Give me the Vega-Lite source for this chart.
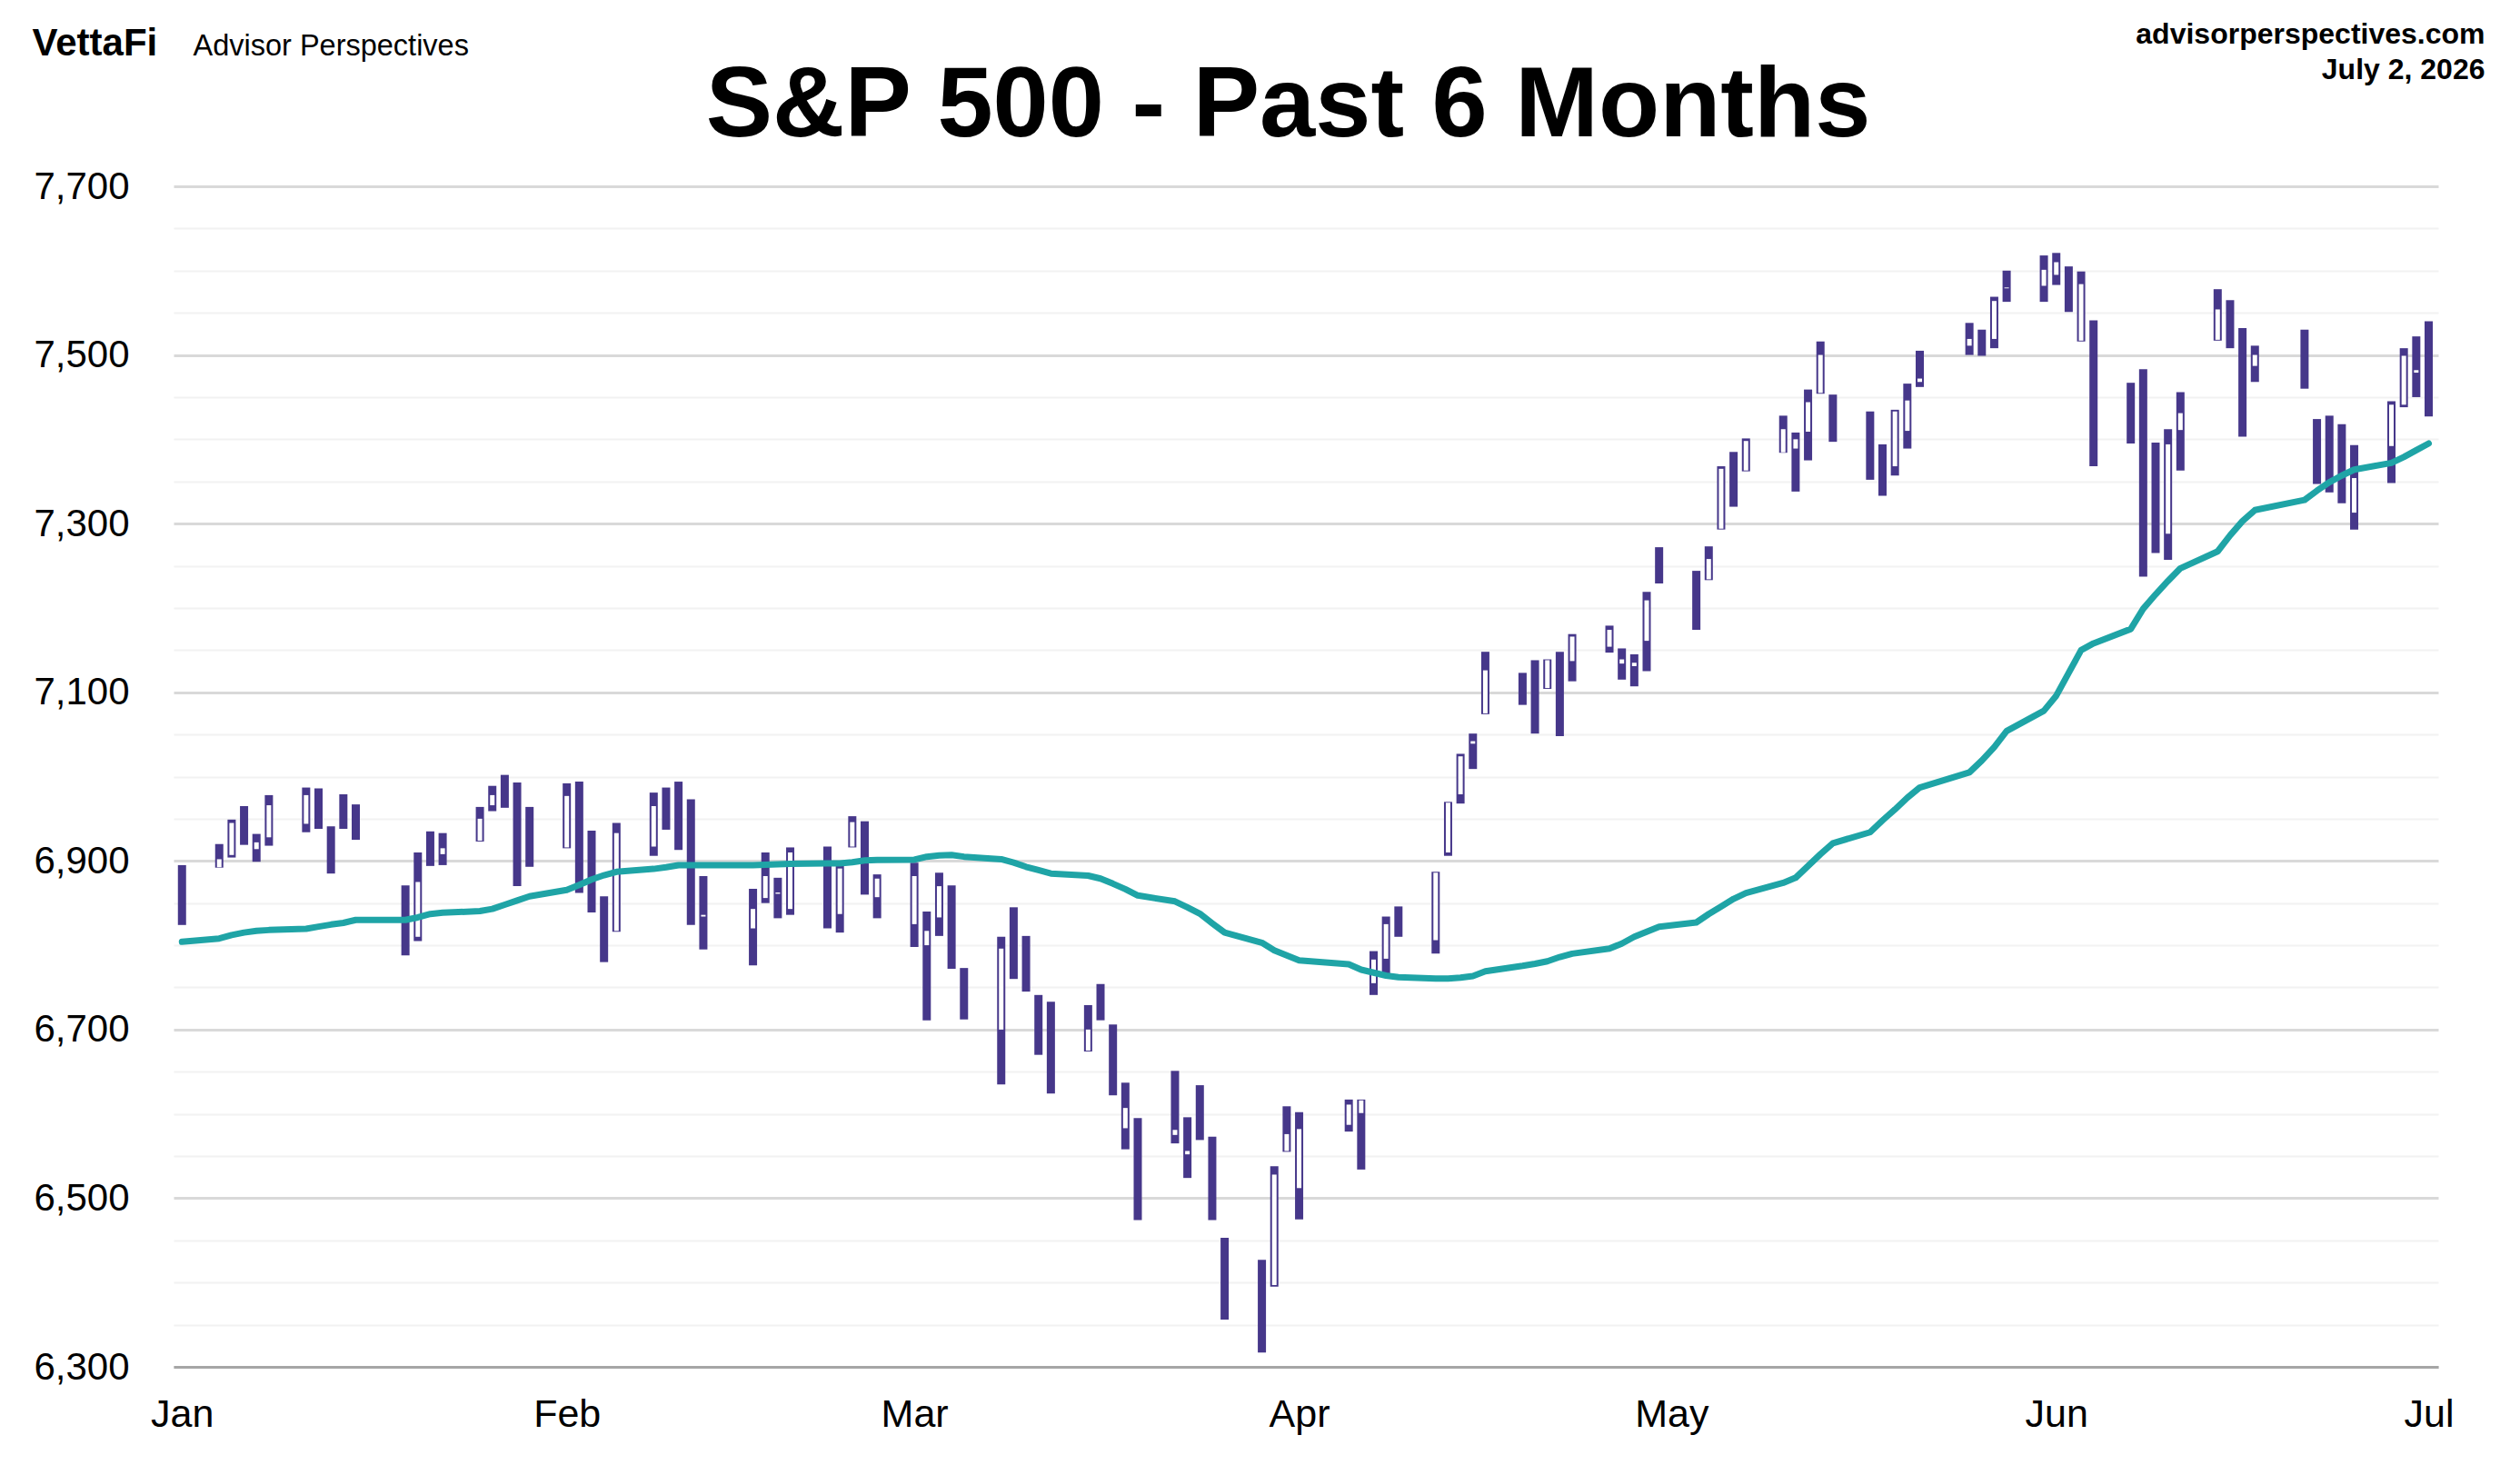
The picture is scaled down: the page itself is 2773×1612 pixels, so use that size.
{
  "$schema": "https://vega.github.io/schema/vega-lite/v6.json",
  "width": 2492,
  "height": 1299,
  "autosize": {"type": "none"},
  "padding": {"left": 191, "top": 205, "right": 90, "bottom": 108},
  "background": "white",
  "config": {"view": {"stroke": null}, "font": "Liberation Sans"},
  "data": {"values": [
    {"d":"2026-01-02","h":6895,"l":6824,"m":6804},
    {"d":"2026-01-05","h":6920,"l":6892,"o":6892.5,"c":6902,"m":6808},
    {"d":"2026-01-06","h":6949,"l":6904,"o":6907,"c":6945,"m":6812},
    {"d":"2026-01-07","h":6965,"l":6919,"m":6815},
    {"d":"2026-01-08","h":6932,"l":6899,"o":6914,"c":6922,"m":6817},
    {"d":"2026-01-09","h":6978,"l":6918,"o":6928,"c":6966,"m":6818},
    {"d":"2026-01-12","h":6987,"l":6934,"o":6944,"c":6978,"m":6819.5},
    {"d":"2026-01-13","h":6986,"l":6938,"m":6822},
    {"d":"2026-01-14","h":6941,"l":6885,"m":6824.5},
    {"d":"2026-01-15","h":6979,"l":6938,"m":6826.5},
    {"d":"2026-01-16","h":6967,"l":6925,"m":6830},
    {"d":"2026-01-20","h":6871,"l":6788,"m":6830},
    {"d":"2026-01-21","h":6910,"l":6805,"o":6810,"c":6875,"m":6833},
    {"d":"2026-01-22","h":6935,"l":6894,"m":6837},
    {"d":"2026-01-23","h":6933,"l":6895,"o":6908,"c":6915,"m":6838.5},
    {"d":"2026-01-26","h":6964,"l":6923,"o":6924,"c":6950,"m":6840.5},
    {"d":"2026-01-27","h":6989,"l":6959,"o":6966,"c":6978,"m":6843},
    {"d":"2026-01-28","h":7002,"l":6963,"m":6848},
    {"d":"2026-01-29","h":6993,"l":6870,"m":6853},
    {"d":"2026-01-30","h":6964,"l":6893,"m":6858},
    {"d":"2026-02-02","h":6992,"l":6915,"o":6916,"c":6977,"m":6865.5},
    {"d":"2026-02-03","h":6994,"l":6862,"m":6871.5},
    {"d":"2026-02-04","h":6936,"l":6839,"m":6878},
    {"d":"2026-02-05","h":6858,"l":6780,"m":6883},
    {"d":"2026-02-06","h":6945,"l":6816,"o":6817,"c":6933,"m":6887},
    {"d":"2026-02-09","h":6981,"l":6906,"o":6917,"c":6965,"m":6890.5},
    {"d":"2026-02-10","h":6987,"l":6937,"m":6892.5},
    {"d":"2026-02-11","h":6994,"l":6913,"m":6895},
    {"d":"2026-02-12","h":6973,"l":6824,"m":6895},
    {"d":"2026-02-13","h":6882,"l":6795,"o":6834,"c":6836,"m":6895},
    {"d":"2026-02-17","h":6867,"l":6776,"o":6820,"c":6843,"m":6895},
    {"d":"2026-02-18","h":6910,"l":6850,"o":6856,"c":6882,"m":6895.5},
    {"d":"2026-02-19","h":6880,"l":6832,"o":6861,"c":6862.5,"m":6896},
    {"d":"2026-02-20","h":6916,"l":6836,"o":6843,"c":6910,"m":6896.5},
    {"d":"2026-02-23","h":6917,"l":6820,"m":6897},
    {"d":"2026-02-24","h":6900,"l":6815,"o":6837,"c":6891,"m":6897},
    {"d":"2026-02-25","h":6953,"l":6916,"o":6917,"c":6946,"m":6898.5},
    {"d":"2026-02-26","h":6947,"l":6860,"m":6900.5},
    {"d":"2026-02-27","h":6884,"l":6832,"o":6857,"c":6879,"m":6901},
    {"d":"2026-03-02","h":6898,"l":6798,"o":6825,"c":6882,"m":6901.5},
    {"d":"2026-03-03","h":6840,"l":6711,"o":6800,"c":6817,"m":6905},
    {"d":"2026-03-04","h":6886,"l":6811,"o":6833,"c":6870,"m":6906.5},
    {"d":"2026-03-05","h":6871,"l":6772,"m":6907},
    {"d":"2026-03-06","h":6773,"l":6712,"m":6905},
    {"d":"2026-03-09","h":6810,"l":6635,"o":6700,"c":6796,"m":6902},
    {"d":"2026-03-10","h":6845,"l":6760,"m":6898},
    {"d":"2026-03-11","h":6811,"l":6745,"m":6893},
    {"d":"2026-03-12","h":6741,"l":6670,"m":6889},
    {"d":"2026-03-13","h":6733,"l":6624,"m":6885},
    {"d":"2026-03-16","h":6729,"l":6674,"o":6675,"c":6700,"m":6882.5},
    {"d":"2026-03-17","h":6754,"l":6711,"m":6879},
    {"d":"2026-03-18","h":6706,"l":6622,"m":6873},
    {"d":"2026-03-19","h":6637,"l":6558,"o":6583,"c":6607,"m":6866.5},
    {"d":"2026-03-20","h":6595,"l":6474,"m":6859},
    {"d":"2026-03-23","h":6651,"l":6565,"o":6575,"c":6581,"m":6852},
    {"d":"2026-03-24","h":6596,"l":6524,"o":6552,"c":6556,"m":6845},
    {"d":"2026-03-25","h":6634,"l":6569,"m":6837.5},
    {"d":"2026-03-26","h":6573,"l":6474,"m":6826},
    {"d":"2026-03-27","h":6453,"l":6356,"m":6815},
    {"d":"2026-03-30","h":6427,"l":6317,"m":6803},
    {"d":"2026-03-31","h":6538,"l":6395,"o":6397,"c":6528,"m":6794},
    {"d":"2026-04-01","h":6609,"l":6555,"o":6556,"c":6576,"m":6788},
    {"d":"2026-04-02","h":6602,"l":6475,"o":6512,"c":6582,"m":6782},
    {"d":"2026-04-06","h":6617,"l":6579,"o":6587,"c":6611,"m":6777.5},
    {"d":"2026-04-07","h":6617,"l":6534,"o":6601,"c":6616,"m":6771},
    {"d":"2026-04-08","h":6793,"l":6741,"o":6755,"c":6783,"m":6767.5},
    {"d":"2026-04-09","h":6834,"l":6762,"o":6784,"c":6825,"m":6764},
    {"d":"2026-04-10","h":6846,"l":6810,"m":6762},
    {"d":"2026-04-13","h":6887,"l":6790,"o":6806,"c":6886,"m":6760.5},
    {"d":"2026-04-14","h":6970,"l":6906,"o":6910,"c":6969,"m":6760.5},
    {"d":"2026-04-15","h":7027,"l":6968,"o":6979,"c":7024,"m":6761.5},
    {"d":"2026-04-16","h":7051,"l":7009,"o":7039,"c":7042,"m":6763.5},
    {"d":"2026-04-17","h":7148,"l":7074,"o":7075,"c":7126,"m":6769},
    {"d":"2026-04-20","h":7123,"l":7085,"m":6775.5},
    {"d":"2026-04-21","h":7138,"l":7051,"m":6778},
    {"d":"2026-04-22","h":7139,"l":7104,"o":7105,"c":7138,"m":6781},
    {"d":"2026-04-23","h":7148,"l":7048,"m":6786},
    {"d":"2026-04-24","h":7169,"l":7113,"o":7137,"c":7166,"m":6790},
    {"d":"2026-04-27","h":7179,"l":7147,"o":7154,"c":7174,"m":6796},
    {"d":"2026-04-28","h":7152,"l":7115,"o":7134,"c":7139,"m":6802},
    {"d":"2026-04-29","h":7145,"l":7107,"o":7131,"c":7135,"m":6810},
    {"d":"2026-04-30","h":7219,"l":7125,"o":7161,"c":7209,"m":6816},
    {"d":"2026-05-01","h":7272,"l":7229,"m":6822},
    {"d":"2026-05-04","h":7244,"l":7174,"m":6827},
    {"d":"2026-05-05","h":7273,"l":7233,"o":7234,"c":7258,"m":6837},
    {"d":"2026-05-06","h":7368,"l":7293,"o":7294,"c":7365,"m":6846},
    {"d":"2026-05-07","h":7385,"l":7320,"m":6855},
    {"d":"2026-05-08","h":7401,"l":7362,"o":7363,"c":7398,"m":6862},
    {"d":"2026-05-11","h":7428,"l":7384,"o":7384.5,"c":7412,"m":6874},
    {"d":"2026-05-12","h":7408,"l":7338,"o":7389,"c":7400,"m":6880},
    {"d":"2026-05-13","h":7459,"l":7375,"o":7409,"c":7444,"m":6894},
    {"d":"2026-05-14","h":7516,"l":7454,"o":7455,"c":7500,"m":6908},
    {"d":"2026-05-15","h":7453,"l":7397,"m":6921},
    {"d":"2026-05-18","h":7433,"l":7352,"m":6934},
    {"d":"2026-05-19","h":7394,"l":7333,"m":6948},
    {"d":"2026-05-20","h":7435,"l":7357,"o":7368,"c":7433,"m":6961},
    {"d":"2026-05-21","h":7466,"l":7389,"o":7410,"c":7446,"m":6975},
    {"d":"2026-05-22","h":7505,"l":7462,"o":7468,"c":7472,"m":6987},
    {"d":"2026-05-26","h":7538,"l":7500,"o":7511,"c":7519,"m":7005},
    {"d":"2026-05-27","h":7530,"l":7499,"m":7019},
    {"d":"2026-05-28","h":7569,"l":7508,"o":7519,"c":7564,"m":7035},
    {"d":"2026-05-29","h":7600,"l":7563,"o":7579,"c":7580,"m":7054},
    {"d":"2026-06-01","h":7618,"l":7563,"o":7582,"c":7601,"m":7078},
    {"d":"2026-06-02","h":7621,"l":7583,"o":7595,"c":7610,"m":7096},
    {"d":"2026-06-03","h":7605,"l":7551,"m":7123},
    {"d":"2026-06-04","h":7599,"l":7516,"o":7517,"c":7584,"m":7150},
    {"d":"2026-06-05","h":7541,"l":7368,"m":7158},
    {"d":"2026-06-08","h":7467,"l":7395,"m":7175},
    {"d":"2026-06-09","h":7483,"l":7237,"m":7199},
    {"d":"2026-06-10","h":7396,"l":7265,"m":7216},
    {"d":"2026-06-11","h":7412,"l":7257,"o":7288,"c":7394,"m":7232},
    {"d":"2026-06-12","h":7456,"l":7363,"o":7411,"c":7431,"m":7247},
    {"d":"2026-06-15","h":7578,"l":7517,"o":7518,"c":7554,"m":7267},
    {"d":"2026-06-16","h":7565,"l":7508,"m":7286},
    {"d":"2026-06-17","h":7532,"l":7403,"m":7303},
    {"d":"2026-06-18","h":7511,"l":7468,"o":7487,"c":7500,"m":7316},
    {"d":"2026-06-22","h":7530,"l":7460,"m":7328},
    {"d":"2026-06-23","h":7424,"l":7347,"m":7339},
    {"d":"2026-06-24","h":7428,"l":7337,"m":7349},
    {"d":"2026-06-25","h":7418,"l":7324,"m":7357},
    {"d":"2026-06-26","h":7393,"l":7293,"o":7313,"c":7354,"m":7364},
    {"d":"2026-06-29","h":7445,"l":7348,"o":7392,"c":7441,"m":7372},
    {"d":"2026-06-30","h":7508,"l":7438,"o":7441,"c":7499,"m":7379},
    {"d":"2026-07-01","h":7522,"l":7450,"o":7479,"c":7482,"m":7387},
    {"d":"2026-07-02","h":7540,"l":7427,"m":7395}
  ]},
  "resolve": {"axis": {"x": "independent", "y": "independent"}},
  "layer": [
    {
      "mark": {"type": "bar", "size": 9, "color": "#46378a"},
      "encoding": {
        "x": {
          "field": "d",
          "type": "temporal",
          "scale": {"type": "utc", "domain": [1767285000000, 1782985200000]},
          "axis": {
            "orient": "bottom",
            "values": [1767312000000, 1769990400000, 1772409600000, 1775088000000, 1777680000000, 1780358400000, 1782950400000],
            "labelExpr": "utcFormat(datum.value, '%b')",
            "ticks": false,
            "grid": false,
            "domain": true,
            "domainColor": "#a6a6a6",
            "domainWidth": 3,
            "labelFont": "Liberation Sans",
            "labelFontSize": 43,
            "labelColor": "#000000",
            "labelPadding": 31,
            "labelOverlap": false,
            "labelBound": false,
            "labelFlush": false,
            "title": "S&P 500 - Past 6 Months",
            "titleX": 1226,
            "titleY": -1355,
            "titleAlign": "center",
            "titleBaseline": "alphabetic",
            "titleAngle": 0,
            "titleFont": "Liberation Sans",
            "titleFontSize": 110,
            "titleFontWeight": "bold",
            "titleColor": "#000000",
            "titleLimit": 3000
          }
        },
        "y": {
          "field": "l",
          "type": "quantitative",
          "scale": {"domain": [6300, 7700], "zero": false, "nice": false},
          "axis": {
            "orient": "left",
            "values": [6300, 6350, 6400, 6450, 6500, 6550, 6600, 6650, 6700, 6750, 6800, 6850, 6900, 6950, 7000, 7050, 7100, 7150, 7200, 7250, 7300, 7350, 7400, 7450, 7500, 7550, 7600, 7650, 7700],
            "labelExpr": "datum.value % 200 === 100 ? format(datum.value, ',') : ''",
            "ticks": false,
            "domain": false,
            "grid": true,
            "gridColor": {"condition": {"test": "datum.value % 200 === 100", "value": "#d9d9d9"}, "value": "#f2f2f2"},
            "gridWidth": {"condition": {"test": "datum.value % 200 === 100", "value": 3}, "value": 2},
            "labelFont": "Liberation Sans",
            "labelFontSize": 42,
            "labelColor": "#000000",
            "labelPadding": 49,
            "labelOverlap": false,
            "labelBound": false,
            "title": "VettaFi",
            "titleX": -156,
            "titleY": -145,
            "titleAngle": 0,
            "titleAlign": "left",
            "titleBaseline": "alphabetic",
            "titleFont": "Liberation Sans",
            "titleFontSize": 42,
            "titleFontWeight": "bold",
            "titleColor": "#000000",
            "titleLimit": 1000
          }
        },
        "y2": {"field": "h"}
      }
    },
    {
      "transform": [{"filter": "isValid(datum.o)"}],
      "mark": {"type": "bar", "size": 5, "color": "#ffffff"},
      "encoding": {
        "x": {
          "field": "d",
          "type": "temporal",
          "axis": {
            "orient": "top",
            "labels": false,
            "ticks": false,
            "domain": false,
            "grid": false,
            "title": "Advisor Perspectives",
            "titleX": 21,
            "titleY": -145,
            "titleAngle": 0,
            "titleAlign": "left",
            "titleBaseline": "alphabetic",
            "titleFont": "Liberation Sans",
            "titleFontSize": 32.5,
            "titleFontWeight": "normal",
            "titleColor": "#000000",
            "titleLimit": 1000
          }
        },
        "y": {"field": "o", "type": "quantitative", "axis": null},
        "y2": {"field": "c"}
      }
    },
    {
      "mark": {"type": "line", "color": "#1fa4a6", "strokeWidth": 7, "strokeCap": "round", "strokeJoin": "round"},
      "encoding": {
        "x": {"field": "d", "type": "temporal", "axis": null},
        "y": {
          "field": "m",
          "type": "quantitative",
          "axis": {
            "orient": "right",
            "labels": false,
            "ticks": false,
            "domain": false,
            "grid": false,
            "title": ["advisorperspectives.com", "July 2, 2026"],
            "titleX": 51,
            "titleY": -158,
            "titleAngle": 0,
            "titleAlign": "right",
            "titleBaseline": "alphabetic",
            "titleLineHeight": 39,
            "titleFont": "Liberation Sans",
            "titleFontSize": 32,
            "titleFontWeight": "bold",
            "titleColor": "#000000",
            "titleLimit": 1000
          }
        }
      }
    }
  ]
}
